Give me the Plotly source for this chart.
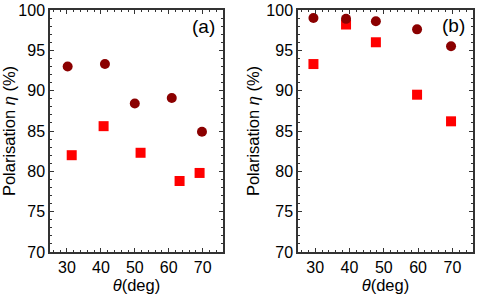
import plotly.graph_objects as go
from plotly.subplots import make_subplots

# Panel (a)
a_circ_x = [30.2, 41.2, 50.0, 60.9, 69.8]
a_circ_y = [93.0, 93.3, 88.4, 89.1, 84.9]
a_sq_x = [31.4, 40.8, 51.7, 63.2, 69.1]
a_sq_y = [82.0, 85.6, 82.3, 78.8, 79.8]

# Panel (b)
b_circ_x = [29.5, 39.0, 47.7, 59.7, 69.6]
b_circ_y = [99.0, 98.9, 98.6, 97.6, 95.5]
b_sq_x = [29.5, 39.0, 47.7, 59.7, 69.6]
b_sq_y = [93.3, 98.2, 96.0, 89.5, 86.2]

x_ticks = [30, 40, 50, 60, 70]
y_ticks = [70, 75, 80, 85, 90, 95, 100]

FONT = "Liberation Sans, Arial, sans-serif"
CIRC = "#8b0000"
SQ = "#ff0000"

fig = make_subplots(rows=1, cols=2)

for col, (cx, cy, sx, sy) in enumerate(
    [(a_circ_x, a_circ_y, a_sq_x, a_sq_y), (b_circ_x, b_circ_y, b_sq_x, b_sq_y)], start=1
):
    fig.add_trace(go.Scatter(x=sx, y=sy, mode="markers",
                             marker=dict(symbol="square", size=10, color=SQ),
                             showlegend=False), row=1, col=col)
    fig.add_trace(go.Scatter(x=cx, y=cy, mode="markers",
                             marker=dict(symbol="circle", size=10, color=CIRC),
                             showlegend=False), row=1, col=col)

axis_common = dict(showline=True, linecolor="#333", linewidth=1.5, mirror="allticks",
                   ticks="inside", ticklen=4, tickcolor="#333", showgrid=False,
                   zeroline=False, tickfont=dict(family=FONT, size=16, color="black"))

xt = dict(text="<i>θ</i>(deg)", font=dict(family=FONT, size=16.5, color="black"), standoff=3)
yt = dict(text="Polarisation <i>η</i> (%)", font=dict(family=FONT, size=16.5, color="black"), standoff=3)

fig.update_xaxes(range=[25, 76], tickvals=x_ticks, ticktext=[str(v) for v in x_ticks],
                 minor=dict(dtick=2, ticks="inside", ticklen=2, tickcolor="#333"),
                 title=xt, **axis_common)
fig.update_yaxes(range=[70, 100], tickvals=y_ticks, ticktext=[str(v) for v in y_ticks],
                 minor=dict(dtick=1, ticks="inside", ticklen=2, tickcolor="#333"),
                 title=yt, **axis_common)

fig.update_layout(
    width=482, height=300,
    margin=dict(l=0, r=0, t=10, b=48),
    paper_bgcolor="white", plot_bgcolor="white",
    xaxis=dict(domain=[50/482, 223/482]),
    xaxis2=dict(domain=[298/482, 473/482]),
    annotations=[
        dict(text="(a)", x=0.885, y=0.93, xref="x domain", yref="y domain",
             xanchor="center", yanchor="middle",
             showarrow=False, font=dict(family=FONT, size=19, color="black")),
        dict(text="(b)", x=0.89, y=0.935, xref="x2 domain", yref="y2 domain",
             xanchor="center", yanchor="middle",
             showarrow=False, font=dict(family=FONT, size=19, color="black")),
    ],
)

fig.write_html("out.html")
